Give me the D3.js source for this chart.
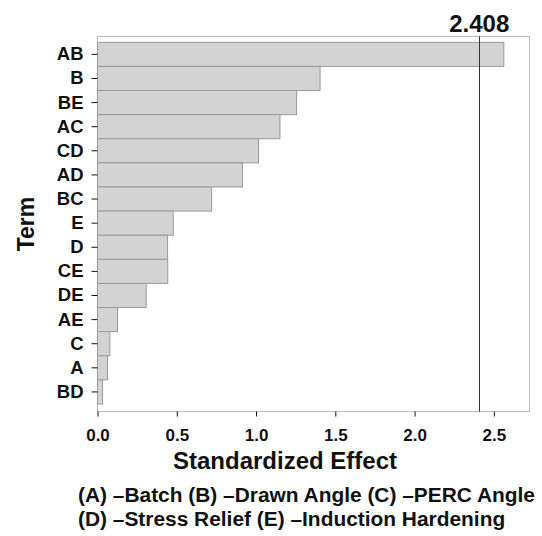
<!DOCTYPE html>
<html>
<head>
<meta charset="utf-8">
<script src="https://cdn.jsdelivr.net/npm/d3@7"></script>
<style>
  html, body { margin: 0; padding: 0; background: #fff; }
  svg { display: block; font-family: "Liberation Sans", Arial, Helvetica, sans-serif; font-weight: bold; }
</style>
</head>
<body>
<svg id="chart" width="542" height="536"></svg>
<script>
// Pareto of standardized effects
const terms = ["AB", "B", "BE", "AC", "CD", "AD", "BC", "E", "D", "CE", "DE", "AE", "C", "A", "BD"];
const effects = [2.563, 1.404, 1.256, 1.151, 1.016, 0.915, 0.720, 0.478, 0.442, 0.443, 0.307, 0.126, 0.078, 0.063, 0.032];
const xTicks = [0, 0.5, 1.0, 1.5, 2.0, 2.5];
const critical = 2.408;
const legendLines = [
  "(A) \u2013Batch (B) \u2013Drawn Angle (C) \u2013PERC Angle",
  "(D) \u2013Stress Relief (E) \u2013Induction Hardening"
];

const svg = d3.select("#chart");
const plot = { left: 97.5, right: 529.5, top: 36.5, bottom: 411.5 };

const x = d3.scaleLinear().domain([0, 2.725]).range([plot.left, plot.right]);
const y = d3.scaleBand().domain(terms).range([42.3, 404]).paddingInner(0);

// frame
svg.append("rect")
  .attr("x", plot.left).attr("y", plot.top)
  .attr("width", plot.right - plot.left).attr("height", plot.bottom - plot.top)
  .attr("fill", "none").attr("stroke", "#bdbdbd").attr("stroke-width", 1);

// bars
svg.append("g").selectAll("rect")
  .data(terms.map((t, i) => ({ term: t, value: effects[i] })))
  .join("rect")
  .attr("x", x(0))
  .attr("y", d => y(d.term))
  .attr("width", d => x(d.value) - x(0))
  .attr("height", y.bandwidth())
  .attr("fill", "#d3d3d3")
  .attr("stroke", "#9a9a9a")
  .attr("stroke-width", 1);

// critical-value reference line
const xc = Math.round(x(critical)) + 0.5;
svg.append("line")
  .attr("x1", xc).attr("x2", xc)
  .attr("y1", plot.top).attr("y2", plot.bottom)
  .attr("stroke", "#333").attr("stroke-width", 1);
svg.append("text")
  .attr("x", x(critical)).attr("y", 32)
  .attr("text-anchor", "middle")
  .attr("font-size", 24)
  .attr("fill", "#111")
  .text(d3.format(".3f")(critical));

// y axis
const yAxis = svg.append("g")
  .attr("transform", `translate(${plot.left},0)`)
  .call(d3.axisLeft(y).tickSize(6).tickPadding(8));
yAxis.select(".domain").remove();
yAxis.selectAll(".tick line").attr("stroke", "#111");
yAxis.selectAll(".tick text")
  .attr("font-size", 18.5).attr("font-family", null).attr("fill", "#111");

// x axis
const xAxis = svg.append("g")
  .attr("transform", `translate(0,${plot.bottom})`)
  .call(d3.axisBottom(x).tickValues(xTicks).tickFormat(d3.format(".1f")).tickSize(5).tickPadding(12));
xAxis.select(".domain").remove();
xAxis.selectAll(".tick line").attr("stroke", "#111");
xAxis.selectAll(".tick text")
  .attr("font-size", 17).attr("font-family", null).attr("fill", "#111");

// axis titles
svg.append("text")
  .attr("x", 285).attr("y", 469)
  .attr("text-anchor", "middle")
  .attr("font-size", 24).attr("fill", "#111")
  .text("Standardized Effect");

svg.append("text")
  .attr("transform", "translate(34,224) rotate(-90)")
  .attr("text-anchor", "middle")
  .attr("font-size", 23).attr("fill", "#111")
  .text("Term");

// factor legend
svg.append("g").selectAll("text")
  .data(legendLines)
  .join("text")
  .attr("x", 78)
  .attr("y", (d, i) => 502 + i * 24)
  .attr("font-size", 20.9).attr("fill", "#111")
  .text(d => d);
</script>
</body>
</html>
